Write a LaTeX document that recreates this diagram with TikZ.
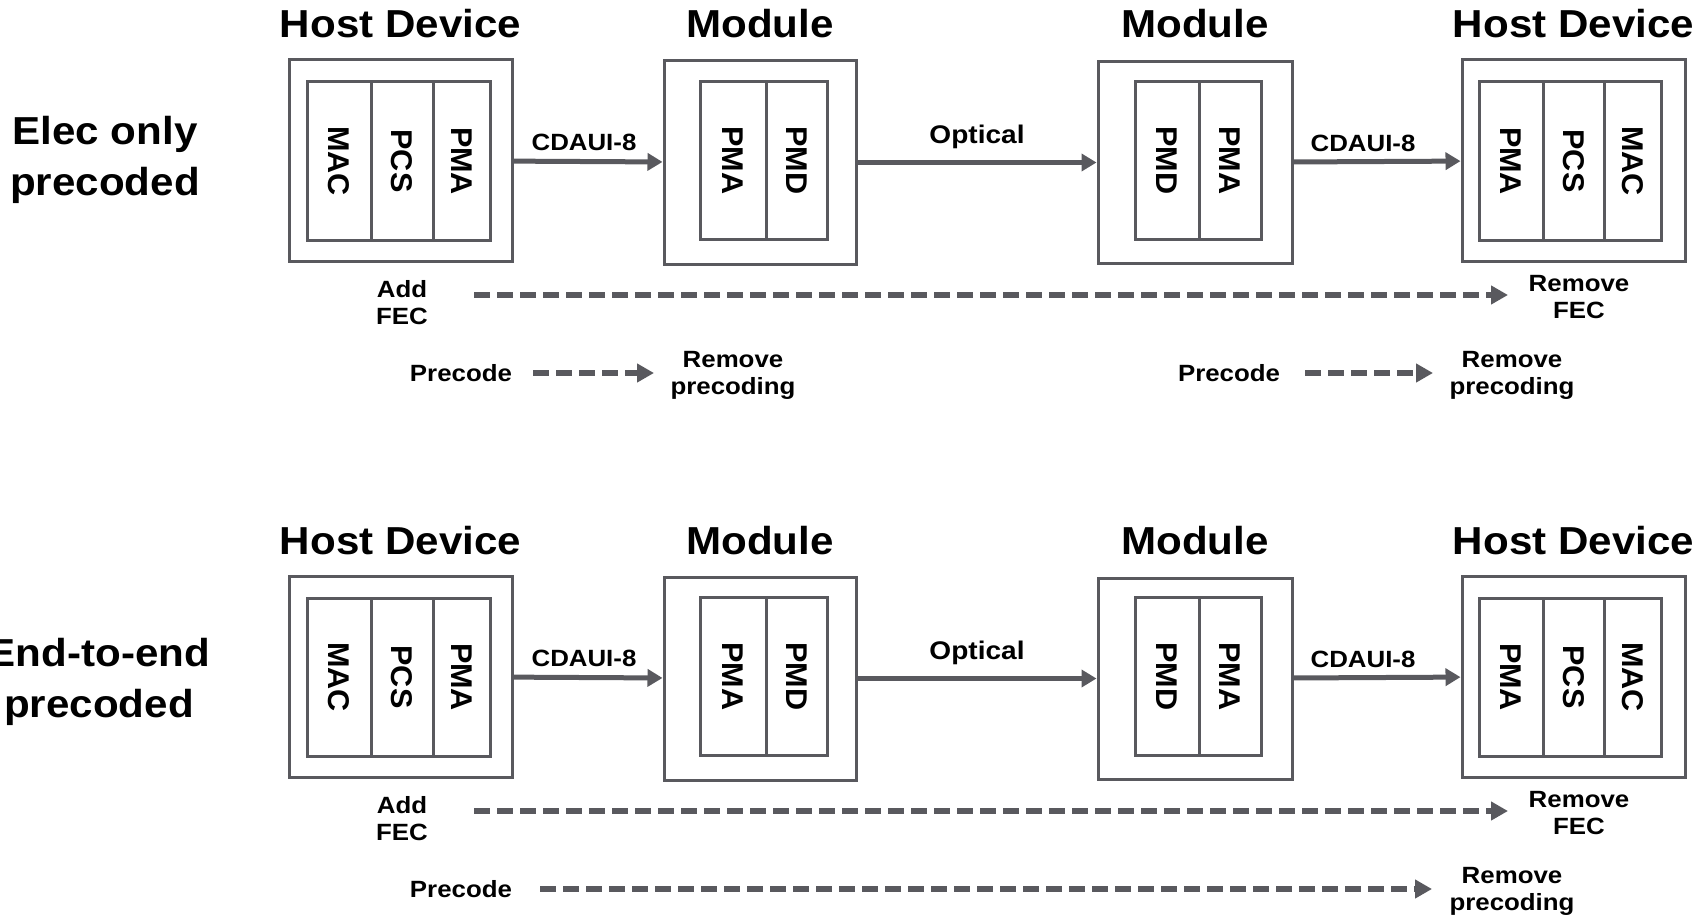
\documentclass[tikz,border=0pt]{standalone}
\usepackage{fontspec}
\setmainfont{Liberation Sans}
\usetikzlibrary{arrows.meta}
\definecolor{linegray}{RGB}{89,89,94}
% widened lettering and vertical layer names
\newcommand\sx[1]{\scalebox{1.08}[1]{#1}}
\newcommand\sxr[1]{\scalebox{1.1}[1]{#1}}
\newcommand\vlabel[1]{\rotatebox{-90}{\scalebox{1.02}[1]{#1}}}

\tikzset{
  title/.style={font=\fontsize{39}{44}\selectfont\bfseries, anchor=base, inner sep=0pt},
  rowlabel/.style={font=\fontsize{39}{51}\selectfont\bfseries, anchor=base, align=center, inner sep=0pt},
  note/.style={font=\fontsize{23.5}{27}\selectfont\bfseries, anchor=base, align=center, inner sep=0pt},
  bignote/.style={note, font=\fontsize{25.5}{29}\selectfont\bfseries},
  outerbox/.style={draw=linegray, line width=3pt, rectangle, inner sep=0pt},
  layer/.style={draw=linegray, line width=3pt, rectangle, inner sep=0pt,
                font=\fontsize{30}{34}\selectfont\bfseries},
  link/.style={draw=linegray, line width=5pt, -{Triangle[length=15pt,width=17pt]}},
  dlink/.style={draw=linegray, line width=6pt, dash pattern=on 16pt off 7pt,
                -{Triangle[length=17pt,width=18pt]}},
}

% one chain: host -- module -- optical -- module -- host
% #1 = name prefix, #2 = vertical offset
\newcommand\chainrow[2]{%
  % titles
  \node[title] (#1t1) at (400.5,#2+38) {\sx{Host Device}};
  \node[title] (#1t2) at (760,#2+38) {\sx{Module}};
  \node[title] (#1t3) at (1195,#2+38) {\sx{Module}};
  \node[title] (#1t4) at (1573.5,#2+38) {\sx{Host Device}};
  % host device (left)
  \node[outerbox, minimum width=223pt, minimum height=201pt] (#1h1) at (400.5,#2+160.5) {};
  \node[layer, minimum width=64pt, minimum height=158pt] (#1h1a) at (339,#2+161) {\vlabel{MAC}};
  \node[layer, minimum width=62pt, minimum height=158pt] (#1h1b) at (402,#2+161) {\vlabel{PCS}};
  \node[layer, minimum width=57pt, minimum height=158pt] (#1h1c) at (461.5,#2+161) {\vlabel{PMA}};
  % module (left)
  \node[outerbox, minimum width=192pt, minimum height=203pt] (#1m1) at (760,#2+162.5) {};
  \node[layer, minimum width=66pt, minimum height=158pt] (#1m1a) at (733,#2+160.5) {\vlabel{PMA}};
  \node[layer, minimum width=61pt, minimum height=158pt] (#1m1b) at (796.5,#2+160.5) {\vlabel{PMD}};
  % module (right)
  \node[outerbox, minimum width=194pt, minimum height=201pt] (#1m2) at (1195,#2+162.5) {};
  \node[layer, minimum width=64pt, minimum height=158pt] (#1m2a) at (1167,#2+160.5) {\vlabel{PMD}};
  \node[layer, minimum width=62pt, minimum height=158pt] (#1m2b) at (1230,#2+160.5) {\vlabel{PMA}};
  % host device (right)
  \node[outerbox, minimum width=223pt, minimum height=201pt] (#1h2) at (1573.5,#2+160.5) {};
  \node[layer, minimum width=64pt, minimum height=158pt] (#1h2a) at (1511,#2+161) {\vlabel{PMA}};
  \node[layer, minimum width=61pt, minimum height=158pt] (#1h2b) at (1573.5,#2+161) {\vlabel{PCS}};
  \node[layer, minimum width=57pt, minimum height=158pt] (#1h2c) at (1632.5,#2+161) {\vlabel{MAC}};
  % links
  \draw[link] (#1h1) -- (#1m1);
  \draw[link] (#1m1) -- (#1m2);
  \draw[link] (#1m2) -- (#1h2);
  \node[note] (#1l1) at (584,#2+150) {\sxr{CDAUI-8}};
  \node[bignote] (#1l2) at (977,#2+143) {\sxr{Optical}};
  \node[note] (#1l3) at (1363,#2+151) {\sxr{CDAUI-8}};
  % FEC span (multi-line nodes sit on their last baseline)
  \node[note] (#1addfec) at (402,#2+324) {\sxr{Add}\\\sxr{FEC}};
  \node[note] (#1rmfec) at (1579,#2+318) {\sxr{Remove}\\\sxr{FEC}};
  \coordinate (#1fecA) at (474,#2+295);
  \coordinate (#1fecB) at (1508,#2+295);
  \draw[dlink] (#1fecA) -- (#1fecB);
}

\begin{document}
\begin{tikzpicture}[x=1pt, y=-1pt]
  \useasboundingbox (0,0) rectangle (1707,915);

  % ---- electrical links only precoded ----
  \node[rowlabel] (rowA) at (105,195) {\sx{Elec only}\\\sx{precoded}};
  \chainrow{a}{0}
  \node[note] (apreL) at (461,381) {\sxr{Precode}};
  \node[note] (armpL) at (733,394) {\sxr{Remove}\\\sxr{precoding}};
  \coordinate (apreLa) at (533,373);
  \coordinate (apreLb) at (654,373);
  \draw[dlink] (apreLa) -- (apreLb);
  \node[note] (apreR) at (1229,381) {\sxr{Precode}};
  \node[note] (armpR) at (1512,394) {\sxr{Remove}\\\sxr{precoding}};
  \coordinate (apreRa) at (1305,373);
  \coordinate (apreRb) at (1433,373);
  \draw[dlink] (apreRa) -- (apreRb);

  % ---- end-to-end precoded ----
  \node[rowlabel] (rowB) at (99,717) {\sx{End-to-end}\\\sx{precoded}};
  \chainrow{b}{516}
  \node[note] (bpre) at (461,897) {\sxr{Precode}};
  \node[note] (brmp) at (1512,910) {\sxr{Remove}\\\sxr{precoding}};
  \coordinate (bprea) at (540,889);
  \coordinate (bpreb) at (1432,889);
  \draw[dlink] (bprea) -- (bpreb);
\end{tikzpicture}
\end{document}
